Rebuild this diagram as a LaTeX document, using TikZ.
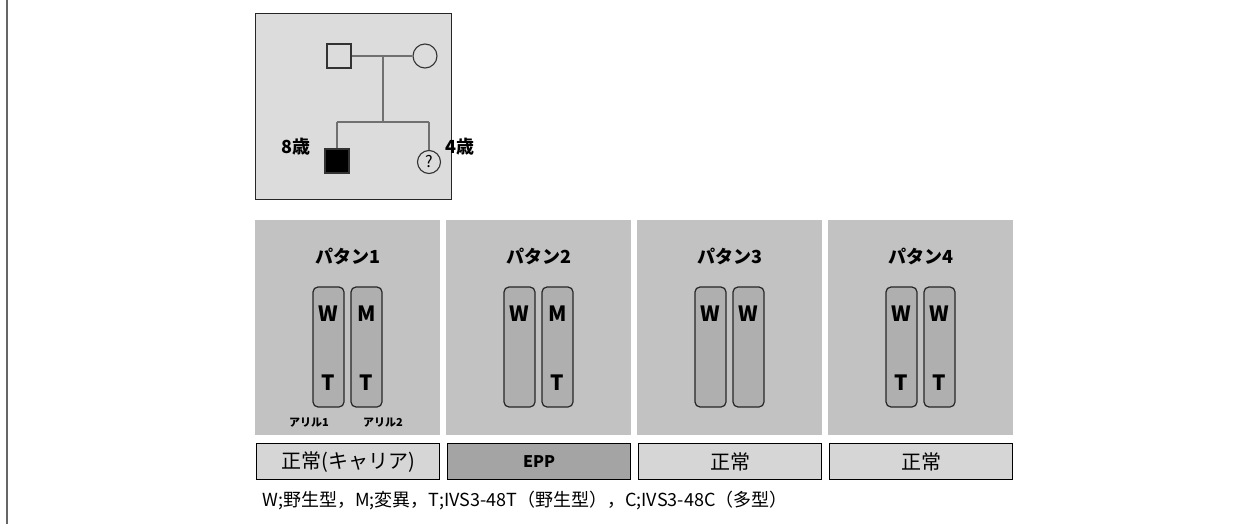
\documentclass[tikz,border=0pt]{standalone}
\usepackage{fontspec}
\setmainfont{Noto Sans CJK JP}
\definecolor{pedfill}{HTML}{DCDCDC}
\definecolor{panelfill}{HTML}{C2C2C2}
\definecolor{chromfill}{HTML}{AFAFAF}
\definecolor{resfill}{HTML}{D6D6D6}
\definecolor{eppfill}{HTML}{A4A4A4}
\definecolor{pedline}{HTML}{707070}
\tikzset{
  panelbox/.style={fill=panelfill, draw=none, minimum width=185pt, minimum height=215pt, inner sep=0pt, anchor=north west},
  chrom/.style={fill=chromfill, draw=black!85, line width=1.2pt, rounded corners=5pt, minimum width=31pt, minimum height=120pt, inner sep=0pt},
  letter/.style={font=\bfseries\fontsize{21}{21}\selectfont, inner sep=0pt},
  title/.style={font=\bfseries\fontsize{18}{18}\selectfont, inner sep=0pt},
  allele/.style={font=\bfseries\fontsize{11}{11}\selectfont, inner sep=0pt},
  resbox/.style={fill=resfill, draw=black, line width=1.3pt, minimum width=183pt, minimum height=36pt, inner sep=0pt, anchor=north west, font=\fontsize{20}{20}\selectfont},
  pedline/.style={draw=pedline, line width=1.3pt},
  male/.style={draw=black!80, line width=1.1pt, minimum size=24pt, inner sep=0pt, rectangle},
  female/.style={draw=black!80, line width=1.1pt, minimum size=24pt, inner sep=0pt, circle},
  agelabel/.style={font=\bfseries\fontsize{18}{18}\selectfont, inner sep=0pt},
}
\begin{document}
\begin{tikzpicture}[x=1pt,y=-1pt]
\useasboundingbox (0,0) rectangle (1251,524);
\fill[white] (0,0) rectangle (1251,524);
% left margin rule
\coordinate (lt) at (7,0);
\coordinate (lb) at (7,524);
\draw[draw=black!60, line width=1.5pt] (lt) -- (lb);

% pedigree
\node[fill=pedfill, draw=black!85, line width=1.3pt, minimum width=196pt, minimum height=186pt, anchor=north west, inner sep=0pt] (ped) at (255,13) {};
\node[male] (fa) at (339,56) {};
\node[female] (mo) at (425,56) {};
\node[male, fill=black] (son) at (337,161) {};
\node[female, minimum size=23pt, font=\fontsize{16}{16}\selectfont] (dau) at (429,162) {?};
\coordinate (mid) at (383,56);
\coordinate (sib) at (383,122);
\coordinate (sl) at (337,122);
\coordinate (sr) at (429,122);
\draw[pedline] (fa.east) -- (mo.west);
\draw[pedline] (mid) -- (sib);
\draw[pedline] (sl) -- (sr);
\draw[pedline] (sl) -- (son.north);
\draw[pedline] (sr) -- (dau.north);
\node[agelabel] (age8) at (296,147) {8歳};
\node[agelabel] (age4) at (460,147) {4歳};

% panels
\foreach \i/\t/\ra/\rb/\la/\lb in {0/1/W/M/T/T, 1/2/W/M//T, 2/3/W/W//, 3/4/W/W/T/T} {
  \pgfmathsetmacro{\L}{255+\i*191}
  \pgfmathsetmacro{\cx}{\L+92.5}
  \node[panelbox] (p\t) at (\L,220) {};
  \node[title] (tt\t) at (\cx,256) {パタン\t};
  \node[chrom] (ca\t) at (\cx-19,347) {};
  \node[chrom] (cb\t) at (\cx+19,347) {};
  \node[letter] (wa\t) at (\cx-19,314) {\ra};
  \node[letter] (wb\t) at (\cx+19,314) {\rb};
  \node[letter] (ta\t) at (\cx-19,383) {\la};
  \node[letter] (tb\t) at (\cx+19,383) {\lb};
}
\node[allele] (al1) at (309,423) {アリル1};
\node[allele] (al2) at (383,423) {アリル2};

% result boxes
\node[resbox] (r1) at (256,443) {正常(キャリア)};
\node[resbox, fill=eppfill, font=\bfseries\fontsize{16}{16}\selectfont] (r2) at (447,443) {EPP};
\node[resbox] (r3) at (638,443) {正常};
\node[resbox] (r4) at (829,443) {正常};

% legend
\node[anchor=west, inner sep=0pt, font=\fontsize{18}{18}\selectfont] (leg) at (262,501) {W;野生型，M;変異，T;IVS3-48T（野生型），C;IVS3-48C（多型）};
\end{tikzpicture}
\end{document}
